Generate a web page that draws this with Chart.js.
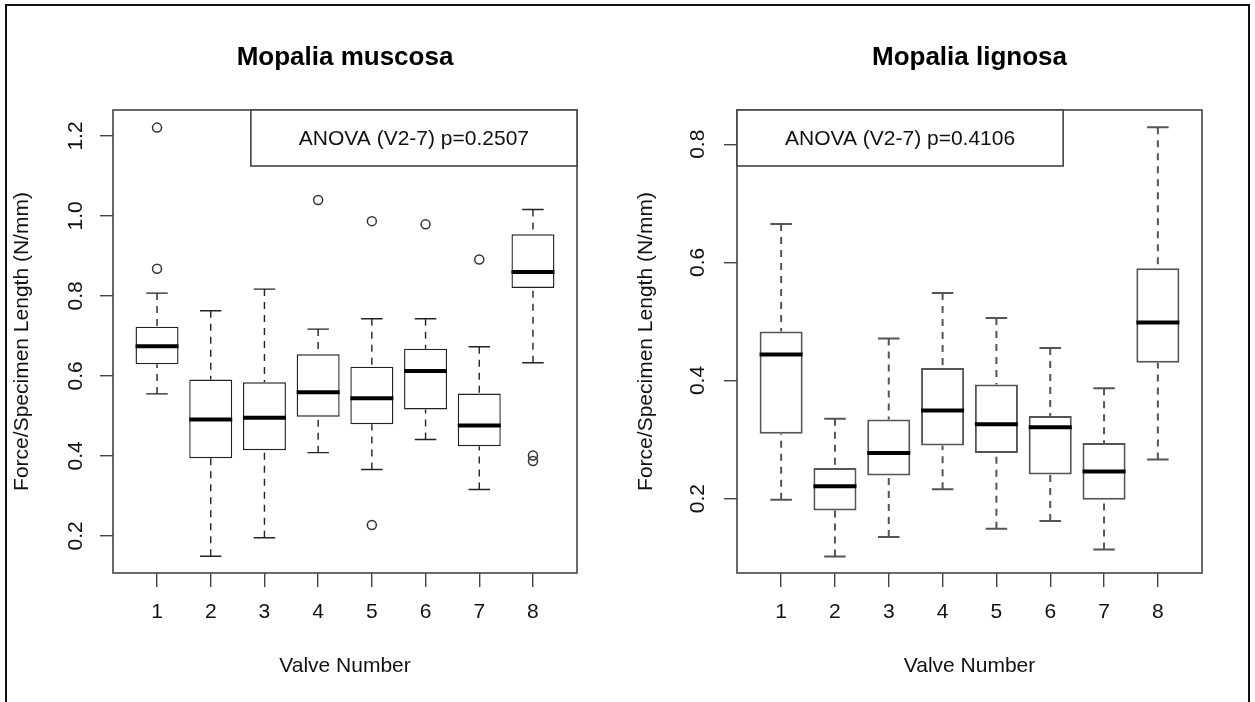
<!DOCTYPE html>
<html>
<head>
<meta charset="utf-8">
<script src="https://cdn.jsdelivr.net/npm/chart.js@4.4.1/dist/chart.umd.min.js"></script>
<style>
  html, body { margin:0; padding:0; background:#fff; }
  #page { position:relative; width:1255px; height:702px; overflow:hidden; background:#fff; }
  #frame { position:absolute; left:5px; top:4px; width:1241px; height:720px; border:2px solid #111; }
  canvas { position:absolute; top:0; }
  #c1 { left:0; }
  #c2 { left:627px; }
</style>
</head>
<body>
<div id="page">
  <div id="frame"></div>
  <canvas id="c1" width="627" height="702"></canvas>
  <canvas id="c2" width="628" height="702"></canvas>
</div>
<script>
// valve numbers (x categories)
const valves = [1, 2, 3, 4, 5, 6, 7, 8];
const xTitle = 'Valve Number';
const yTitle = 'Force/Specimen Length (N/mm)';

// Mopalia muscosa
const muscTitle = 'Mopalia muscosa';
const muscAnova = 'ANOVA (V2-7) p=0.2507';
const muscLo  = [0.555, 0.149, 0.195, 0.408, 0.366, 0.441, 0.316, 0.633];
const muscQ1  = [0.629, 0.394, 0.414, 0.498, 0.479, 0.516, 0.424, 0.820];
const muscMed = [0.674, 0.491, 0.495, 0.559, 0.544, 0.612, 0.476, 0.860];
const muscQ3  = [0.723, 0.591, 0.584, 0.654, 0.623, 0.668, 0.556, 0.954];
const muscHi  = [0.807, 0.763, 0.817, 0.717, 0.743, 0.743, 0.673, 1.016];
const muscOutX = [1, 1, 4, 5, 5, 6, 7, 8, 8];
const muscOutY = [1.221, 0.868, 1.040, 0.987, 0.227, 0.979, 0.891, 0.401, 0.387];
const muscTicks = [0.2, 0.4, 0.6, 0.8, 1.0, 1.2];

// Mopalia lignosa
const lignTitle = 'Mopalia lignosa';
const lignAnova = 'ANOVA (V2-7) p=0.4106';
const lignLo  = [0.198, 0.102, 0.135, 0.216, 0.149, 0.162, 0.114, 0.266];
const lignQ1  = [0.310, 0.180, 0.239, 0.290, 0.277, 0.241, 0.198, 0.430];
const lignMed = [0.444, 0.221, 0.277, 0.349, 0.326, 0.321, 0.246, 0.498];
const lignQ3  = [0.483, 0.252, 0.334, 0.421, 0.393, 0.340, 0.294, 0.590];
const lignHi  = [0.665, 0.335, 0.471, 0.548, 0.506, 0.455, 0.387, 0.829];
const lignOutX = [];
const lignOutY = [];
const lignTicks = [0.2, 0.4, 0.6, 0.8];

const FONT = "'Liberation Sans', Arial, Helvetica, sans-serif";
Chart.defaults.font.family = FONT;
Chart.defaults.color = '#111';

// whiskers, medians, plot frame and the anova legend box
const boxPlugin = {
  id: 'rbox',
  afterDatasetsDraw(chart, args, o) {
    const ctx = chart.ctx;
    const ca = chart.chartArea;
    const y = chart.scales.y;
    const bars = chart.getDatasetMeta(0).data;
    ctx.save();
    bars.forEach(function(bar, i) {
      const cx = bar.x, w = bar.width;
      const yHi = y.getPixelForValue(o.hi[i]), yQ3 = y.getPixelForValue(o.q3[i]);
      const yLo = y.getPixelForValue(o.lo[i]), yQ1 = y.getPixelForValue(o.q1[i]);
      ctx.strokeStyle = o.lineColor;
      ctx.lineWidth = o.lineWidth;
      ctx.setLineDash([7, 6]);
      ctx.beginPath();
      ctx.moveTo(cx, yHi); ctx.lineTo(cx, yQ3);
      ctx.moveTo(cx, yLo); ctx.lineTo(cx, yQ1);
      ctx.stroke();
      ctx.setLineDash([]);
      ctx.beginPath();
      ctx.moveTo(cx - w / 4, yHi); ctx.lineTo(cx + w / 4, yHi);
      ctx.moveTo(cx - w / 4, yLo); ctx.lineTo(cx + w / 4, yLo);
      ctx.stroke();
      const yM = y.getPixelForValue(o.med[i]);
      ctx.strokeStyle = '#000';
      ctx.lineWidth = 4;
      ctx.beginPath();
      ctx.moveTo(cx - w / 2, yM); ctx.lineTo(cx + w / 2, yM);
      ctx.stroke();
    });
    // plot box
    ctx.strokeStyle = '#444';
    ctx.lineWidth = 1.6;
    ctx.strokeRect(ca.left, ca.top, ca.right - ca.left, ca.bottom - ca.top);
    // legend
    ctx.font = '21px ' + FONT;
    const tw = ctx.measureText(o.legend).width;
    const lw = tw + 96, lh = 56;
    const lx = o.legendPos === 'right' ? ca.right - lw : ca.left;
    ctx.fillStyle = '#fff';
    ctx.fillRect(lx, ca.top, lw, lh);
    ctx.strokeRect(lx, ca.top, lw, lh);
    ctx.fillStyle = '#111';
    ctx.textAlign = 'center';
    ctx.textBaseline = 'middle';
    ctx.fillText(o.legend, lx + lw / 2, ca.top + lh / 2 + 1);
    ctx.restore();
  }
};

function makeChart(id, p) {
  return new Chart(document.getElementById(id), {
    type: 'bar',
    data: {
      datasets: [
        {
          type: 'bar', xAxisID: 'x', yAxisID: 'y',
          data: valves.map((v, i) => ({x: v, y: [p.q1[i], p.q3[i]]})),
          backgroundColor: '#fff', borderColor: p.lineColor, borderWidth: p.boxWidth,
          borderSkipped: false, barPercentage: 0.8, categoryPercentage: 1
        },
        {
          type: 'scatter', xAxisID: 'x', yAxisID: 'y',
          data: p.outX.map((v, i) => ({x: v, y: p.outY[i]})),
          pointStyle: 'circle', pointRadius: 4.5, pointBorderWidth: 1.5,
          pointBorderColor: '#333', pointBackgroundColor: 'rgba(0,0,0,0)'
        }
      ]
    },
    options: {
      responsive: false, animation: false, devicePixelRatio: 1,
      layout: {padding: {left: 0, top: 0, bottom: 0, right: p.padRight}},
      plugins: {
        legend: {display: false},
        tooltip: {enabled: false},
        rbox: {lo: p.lo, q1: p.q1, med: p.med, q3: p.q3, hi: p.hi,
               lineColor: p.lineColor, lineWidth: p.whiskWidth,
               legend: p.legend, legendPos: p.legendPos}
      },
      scales: {
        x: {
          type: 'linear', position: 'bottom', min: 0.18, max: 8.82, offset: false,
          grid: {display: true, offset: false, drawOnChartArea: false, drawTicks: true,
                 tickLength: 14, color: '#444', lineWidth: 1.4},
          border: {display: false},
          ticks: {font: {size: 21}, color: '#111', padding: 13, maxRotation: 0, autoSkip: false,
                  callback: v => String(v)},
          afterBuildTicks: s => { s.ticks = valves.map(v => ({value: v})); },
          afterFit: s => { s.height = 129; },
          title: {display: true, text: xTitle, font: {size: 21}, color: '#111',
                  padding: {top: 0, bottom: 23}}
        },
        xTop: {
          type: 'linear', position: 'top', min: 0.18, max: 8.82,
          grid: {display: false}, border: {display: false}, ticks: {display: false},
          afterFit: s => { s.height = 110; },
          title: {display: true, text: p.title, font: {size: 26, weight: 'bold'}, color: '#000',
                  padding: {top: 42, bottom: 0}}
        },
        y: {
          type: 'linear', position: 'left', min: p.yMin, max: p.yMax,
          grid: {display: true, drawOnChartArea: false, drawTicks: true,
                 tickLength: 13, color: '#444', lineWidth: 1.4},
          border: {display: false},
          ticks: {font: {size: 21}, color: '#111', padding: p.yTickPad,
                  minRotation: 90, maxRotation: 90, crossAlign: 'center',
                  callback: v => Number(v).toFixed(1)},
          afterBuildTicks: s => { s.ticks = p.yTicks.map(v => ({value: v})); },
          afterFit: s => { s.width = p.yAxisWidth; },
          title: {display: true, text: yTitle, font: {size: 21}, color: '#111',
                  padding: {top: p.yTitlePad, bottom: 0}}
        }
      }
    },
    plugins: [boxPlugin]
  });
}

makeChart('c1', {
  title: muscTitle, legend: muscAnova, legendPos: 'right',
  lo: muscLo, q1: muscQ1, med: muscMed, q3: muscQ3, hi: muscHi,
  outX: muscOutX, outY: muscOutY, yTicks: muscTicks,
  yMin: 0.107, yMax: 1.265,
  yAxisWidth: 113, padRight: 50, yTickPad: 9, yTitlePad: 10,
  lineColor: '#222', boxWidth: 1.4, whiskWidth: 1.4
});

makeChart('c2', {
  title: lignTitle, legend: lignAnova, legendPos: 'left',
  lo: lignLo, q1: lignQ1, med: lignMed, q3: lignQ3, hi: lignHi,
  outX: lignOutX, outY: lignOutY, yTicks: lignTicks,
  yMin: 0.074, yMax: 0.858,
  yAxisWidth: 110, padRight: 53, yTickPad: 11, yTitlePad: 7,
  lineColor: '#555', boxWidth: 2, whiskWidth: 2
});
</script>
</body>
</html>
